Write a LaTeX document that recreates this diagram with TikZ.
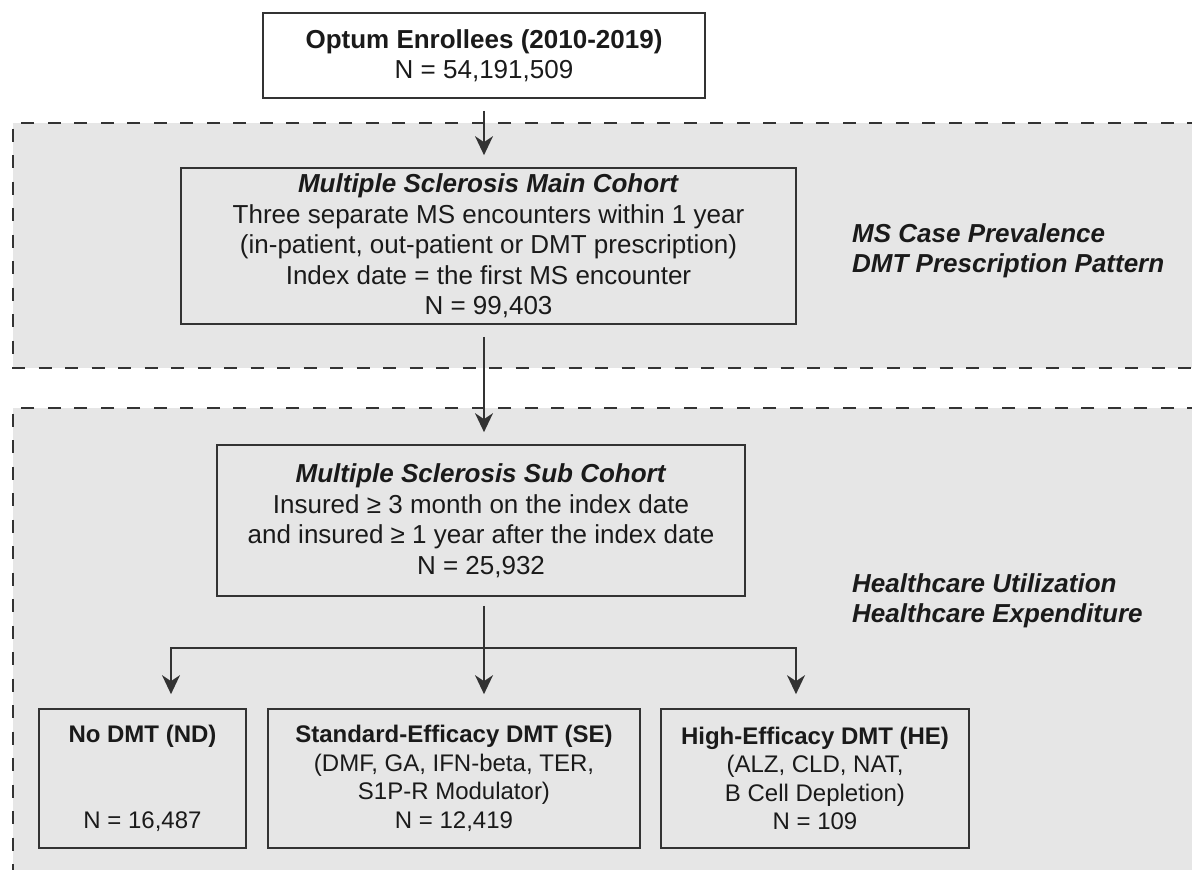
\documentclass[tikz,border=0pt]{standalone}
\usepackage{fontspec}
\setmainfont{Liberation Sans}
\usetikzlibrary{arrows.meta}
\definecolor{regiongray}{HTML}{E6E6E6}
\definecolor{linegray}{HTML}{333333}
\definecolor{textblack}{HTML}{1A1A1A}
\tikzset{
  box/.style={draw=linegray, line width=1.7pt, fill=regiongray, align=center,
    text=textblack, font=\fontsize{24}{28.5}\selectfont, inner sep=0pt},
  bigtext/.style={font=\fontsize{26}{30.5}\selectfont},
  arr/.style={draw=linegray, line width=1.7pt, -{Stealth[length=19pt,width=18pt,inset=6pt]}},
  twoarr/.style={draw=linegray, line width=1.7pt, line join=miter,
    {Stealth[length=19pt,width=18pt,inset=6pt]}-{Stealth[length=19pt,width=18pt,inset=6pt]}},
  regionfill/.style={fill=regiongray, draw=none},
  regionborder/.style={draw=linegray, line width=2pt, dash pattern=on 13pt off 13.5pt},
  sidelabel/.style={font=\fontsize{26}{30}\selectfont\bfseries\itshape, anchor=base west,
    text=textblack, inner sep=0pt}
}
\begin{document}
\begin{tikzpicture}[x=1pt,y=-1pt]
\useasboundingbox (0,0) rectangle (1192,870);
% regions
\fill[regionfill] (13,123) rectangle (1200,368);
\draw[regionborder] (1200,123) -- (13,123) -- (13,368) -- (1200,368);
\fill[regionfill] (13,408) rectangle (1200,880);
\draw[regionborder] (1200,408) -- (13,408) -- (13,880);
% boxes
\node[box, fill=white, minimum width=442pt, minimum height=85pt, bigtext]
  (top) at (484,55.5) {\textbf{Optum Enrollees (2010-2019)}\\N = 54,191,509};
\node[box, bigtext, minimum width=615pt, minimum height=156pt] (main) at (488.5,246)
  {\textbf{\textit{Multiple Sclerosis Main Cohort}}\\Three separate MS encounters within 1 year\\(in-patient, out-patient or DMT prescription)\\Index date = the first MS encounter\\N = 99,403};
\node[box, bigtext, minimum width=528pt, minimum height=151pt] (sub) at (481,520.5)
  {\textbf{\textit{Multiple Sclerosis Sub Cohort}}\\Insured ≥ 3 month on the index date\\and insured ≥ 1 year after the index date\\N = 25,932};
\node[box, minimum width=207pt, minimum height=139pt] (nd) at (142.5,778.5)
  {\textbf{No DMT (ND)}\\\strut\\\strut\\N = 16,487};
\node[box, minimum width=372pt, minimum height=139pt] (se) at (454,778.5)
  {\textbf{Standard-Efficacy DMT (SE)}\\(DMF, GA, IFN-beta, TER,\\S1P-R Modulator)\\N = 12,419};
\node[box, minimum width=308pt, minimum height=139pt] (he) at (815,778.5)
  {\textbf{High-Efficacy DMT (HE)}\\(ALZ, CLD, NAT,\\B Cell Depletion)\\N = 109};
% side labels
\node[sidelabel] (lab1) at (852,242) {MS Case Prevalence};
\node[sidelabel] (lab2) at (852,272) {DMT Prescription Pattern};
\node[sidelabel] (lab3) at (852,592) {Healthcare Utilization};
\node[sidelabel] (lab4) at (852,622) {Healthcare Expenditure};
% connectors
\coordinate (splitl) at (171,648);
\coordinate (splitr) at (796,648);
\draw[arr, shorten <=12pt, shorten >=12pt] (top.south) -- (top.south |- main.north);
\draw[arr, shorten <=12pt, shorten >=12pt] (main.south -| top.south) -- (top.south |- sub.north);
\draw[arr, shorten <=9pt, shorten >=14pt] (sub.south -| top.south) -- (top.south |- se.north);
\draw[twoarr, shorten <=14pt, shorten >=14pt] (splitl |- nd.north) -- (splitl) -- (splitr) -- (splitr |- he.north);
\end{tikzpicture}
\end{document}
